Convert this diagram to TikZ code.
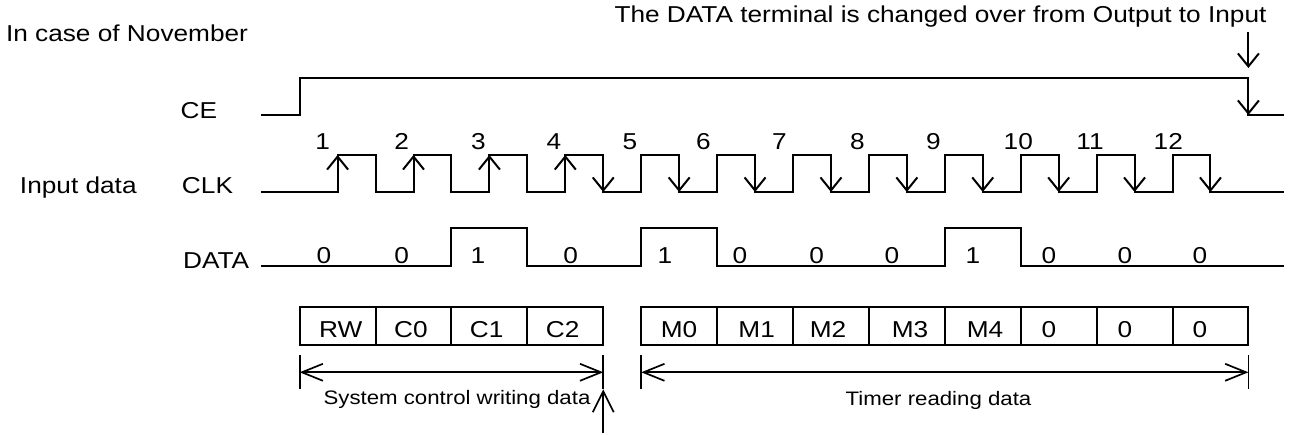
\documentclass[tikz,border=0pt]{standalone}
\usepackage{fontspec}
\setmainfont{Liberation Sans}[FakeStretch=1.14]
\usetikzlibrary{arrows.meta}
\tikzset{
  sig/.style={line width=2pt, line join=miter, line cap=rect},
  boxline/.style={line width=2pt},
  dimline/.style={line width=1.7pt},
  clkarr/.style={-{Straight Barb[length=13pt,width=21pt]}},
  dimarr/.style={{Straight Barb[length=21pt,width=17pt]}-{Straight Barb[length=21pt,width=17pt]}},
  uparr/.style={-{Straight Barb[length=21pt,width=21pt]}},
  big/.style={inner sep=0pt, font=\fontsize{23pt}{27pt}\selectfont},
  small/.style={inner sep=0pt, font=\fontsize{19.5pt}{23pt}\selectfont},
}
\begin{document}
\begin{tikzpicture}[x=1pt,y=-1pt]
\useasboundingbox (0,0) rectangle (1290,435);
% ---- titles and row labels
\node[big,anchor=base] (title) at (127,41.7) {In case of November};
\node[big,anchor=base] (note) at (940.5,22.7) {The DATA terminal is changed over from Output to Input};
\node[big,anchor=base] (ce) at (198.9,118.3) {CE};
\node[big,anchor=base] (inp) at (78.3,193.3) {Input data};
\node[big,anchor=base] (clk) at (207.5,193.3) {CLK};
\node[big,anchor=base] (data) at (216.2,268.3) {DATA};
% ---- CE
\draw[sig] (262,115) -- (299.65,115) -- (299.65,77.7) -- (1248.4,77.7) -- (1248.4,115) -- (1283,115);
\draw[sig,clkarr] (1248.4,77.7) -- (1248.4,115);
\coordinate (nt) at (1248.4,33);
\coordinate (nb) at (1248.4,68);
\draw[sig,clkarr] (nt) -- (nb);
% ---- CLK
\draw[sig] (262,192) foreach \k in {1,...,12} {
  -- ({337.6+(\k-1)*75.9},192) -- ({337.6+(\k-1)*75.9},155)
  -- ({375.55+(\k-1)*75.9},155) -- ({375.55+(\k-1)*75.9},192) } -- (1283,192);
\foreach \k in {1,...,4}
  \draw[sig,clkarr] ({337.6+(\k-1)*75.9},192) -- ({337.6+(\k-1)*75.9},155);
\foreach \k in {4,...,12}
  \draw[sig,clkarr] ({375.55+(\k-1)*75.9},155) -- ({375.55+(\k-1)*75.9},192);
\foreach \n/\x in {1/322.7,2/401.7,3/478.3,4/554,5/630,6/703.3,7/779.3,8/857.3,9/933.3,10/1018.3,11/1090,12/1168.3}
  \node[big,anchor=base] (n\n) at (\x,150) {\n};
% ---- DATA
\draw[sig] (262,266) -- (451.45,266) -- (451.45,228.3) -- (527.35,228.3) -- (527.35,266)
  -- (641.2,266) -- (641.2,228.3) -- (717.1,228.3) -- (717.1,266)
  -- (944.8,266) -- (944.8,228.3) -- (1020.7,228.3) -- (1020.7,266) -- (1283,266);
\foreach \i/\v/\x in {1/0/324,2/0/401.7,3/1/478,4/0/570.7,5/1/665,6/0/740,7/0/816.7,8/0/892,9/1/973,10/0/1049,11/0/1125,12/0/1200}
  \node[big,anchor=base] (d\i) at (\x,263.3) {\v};
% ---- boxes
\draw[boxline] (299.65,307.3) rectangle (603.25,345);
\foreach \x in {375.55,451.45,527.35} \draw[boxline] (\x,307.3) -- (\x,345);
\draw[boxline] (641.2,307.3) rectangle (1248.4,345);
\foreach \k in {6,...,12} \draw[boxline] ({337.6+(\k-1)*75.9},307.3) -- ({337.6+(\k-1)*75.9},345);
\foreach \i/\t/\x in {1/RW/340.7,2/C0/411,3/C1/486.7,4/C2/562.7,5/M0/679,6/M1/756.7,7/M2/828,8/M3/910,9/M4/985,10/0/1049,11/0/1125,12/0/1200}
  \node[big,anchor=base] (b\i) at (\x,337.5) {\t};
% ---- dimension: system control writing data
\coordinate (la) at (299.65,372.3);
\coordinate (lb) at (603.25,372.3);
\draw[dimline] (299.65,355) -- (299.65,389);
\draw[dimline] (603.25,355) -- (603.25,389);
\draw[dimline,dimarr] (la) -- (lb);
\coordinate (ua) at (603.25,433);
\coordinate (ub) at (603.25,389.3);
\draw[dimline,uparr] (ua) -- (ub);
\node[small,anchor=base] (sys) at (457,404) {System control writing data};
% ---- dimension: timer reading data
\coordinate (ra) at (641.2,372.3);
\coordinate (rb) at (1248.4,372.3);
\draw[dimline] (641.2,355) -- (641.2,389);
\draw[dimline] (1248.4,355) -- (1248.4,389);
\draw[dimline,dimarr] (ra) -- (rb);
\node[small,anchor=base] (tim) at (938.5,405) {Timer reading data};
\end{tikzpicture}
\end{document}
